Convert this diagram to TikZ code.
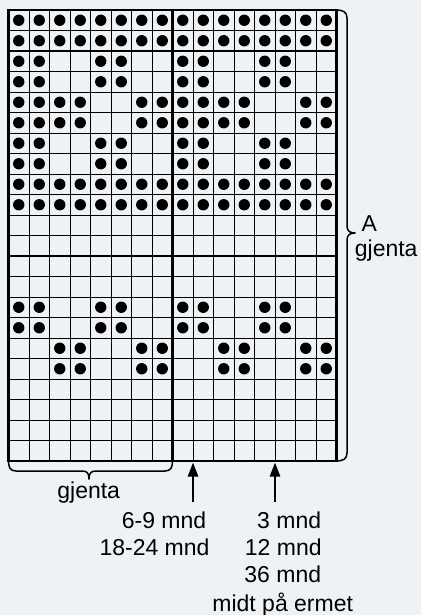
\documentclass[tikz,border=0pt]{standalone}
\usepackage{fontspec}
\setmainfont{Liberation Sans}
\usetikzlibrary{arrows.meta}
\definecolor{bg}{HTML}{EFF2F5}
\begin{document}
\begin{tikzpicture}[x=1pt,y=-1pt,
  thinrule/.style={line width=0.9pt,black},
  midrule/.style={line width=1.8pt,black},
  thickrule/.style={line width=2.8pt,black},
  brace/.style={line width=1.5pt,black,line join=round},
  dot/.style={fill=black},
  lbl/.style={font=\fontsize{23}{27}\selectfont,inner sep=0pt,anchor=base},
  arr/.style={line width=2.4pt,-{Triangle[length=14pt,width=10pt]}}]
\useasboundingbox (0,0) rectangle (421,615);
\fill[bg] (0,0) rectangle (421,615);
% thin grid
\foreach \i in {1,...,15} \draw[thinrule] ({8.5+\i*20.5},10) -- ({8.5+\i*20.5},461);
\foreach \j in {1,...,21} \draw[thinrule] (8.5,{10+\j*20.5}) -- (336.5,{10+\j*20.5});
% dots
\foreach \r/\cl in {1/{1,...,16},2/{1,...,16},9/{1,...,16},10/{1,...,16},
  3/{1,2,5,6,9,10,13,14},4/{1,2,5,6,9,10,13,14},7/{1,2,5,6,9,10,13,14},8/{1,2,5,6,9,10,13,14},
  5/{1,2,3,4,7,8,9,10,11,12,15,16},6/{1,2,3,4,7,8,9,10,11,12,15,16},
  15/{1,2,5,6,9,10,13,14},16/{1,2,5,6,9,10,13,14},
  17/{3,4,7,8,11,12,15,16},18/{3,4,7,8,11,12,15,16}}
  {\foreach \c in \cl \fill[dot] ({8.5+(\c-0.5)*20.5},{10+(\r-0.5)*20.5}) circle (5.7);}
% heavier rules
\draw[midrule] (131.5,10) -- (131.5,461);
\draw[thickrule] (172.5,10) -- (172.5,461);
\draw[midrule] (8.5,51) -- (336.5,51);
\draw[midrule] (8.5,256) -- (336.5,256);
\draw[thickrule,line join=miter] (8.5,10) rectangle (336.5,461);
% right brace
\coordinate (rbT) at (336.5,10);
\coordinate (rbB) at (336.5,461);
\draw[brace] (rbT) .. controls (343,10) and (347,12) .. (347,18) -- (347,226)
  .. controls (347,231) and (350,233) .. (355,233)
  .. controls (350,233) and (347,235) .. (347,240) -- (347,453)
  .. controls (347,459) and (343,461) .. (rbB);
% bottom brace
\coordinate (bbL) at (8.5,461);
\coordinate (bbR) at (172.5,461);
\draw[brace] (bbL) .. controls (8.5,467) and (10,471) .. (16,471) -- (82,471)
  .. controls (87,471) and (89,473) .. (89,479)
  .. controls (89,473) and (91,471) .. (96,471) -- (165,471)
  .. controls (171,471) and (172.5,467) .. (bbR);
% arrows
\coordinate (a1t) at (193,462.5);
\coordinate (a1b) at (193,502);
\coordinate (a2t) at (275,462.5);
\coordinate (a2b) at (275,502);
\draw[arr] (a1b) -- (a1t);
\draw[arr] (a2b) -- (a2t);
% labels
\node[lbl] (tA) at (369.2,231.7) {A};
\node[lbl] (tGr) at (386.2,256.7) {gjenta};
\node[lbl] (tGb) at (88.7,498.3) {gjenta};
\node[lbl] (t69) at (164,528.3) {6-9 mnd};
\node[lbl] (t1824) at (154.5,555) {18-24 mnd};
\node[lbl] (t3) at (289.2,528.3) {3 mnd};
\node[lbl] (t12) at (283.3,555) {12 mnd};
\node[lbl] (t36) at (282.8,582.3) {36 mnd};
\node[lbl] (tmid) at (282.7,611) {midt på ermet};
\end{tikzpicture}
\end{document}
